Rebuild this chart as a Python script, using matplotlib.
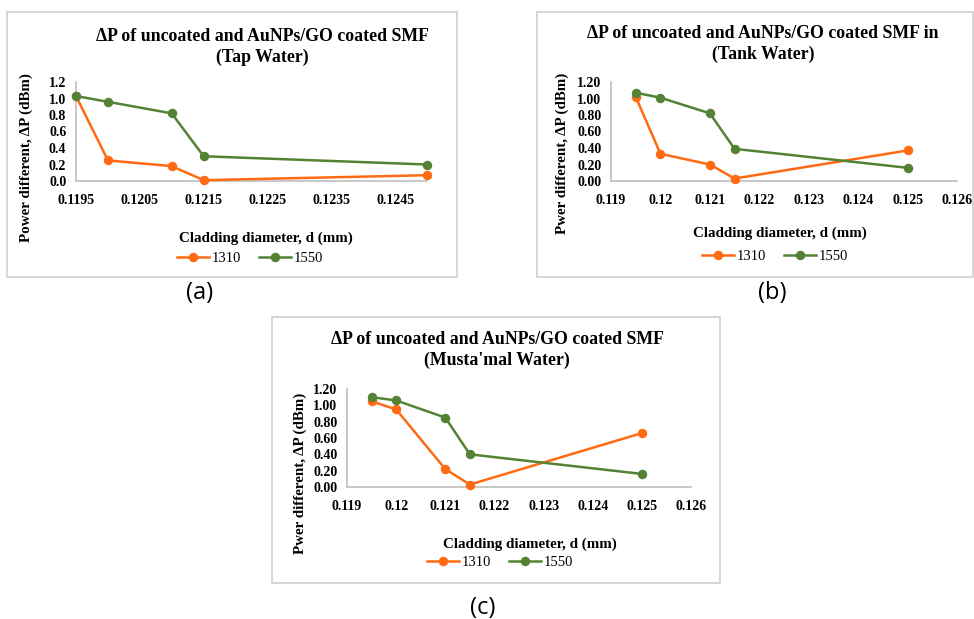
import matplotlib
matplotlib.use("Agg")
import matplotlib.pyplot as plt
from matplotlib.patches import Rectangle
from matplotlib.lines import Line2D

W, H = 974, 619
fig = plt.figure(figsize=(W / 100, H / 100), dpi=100)

ORANGE = "#FF6A13"
GREEN = "#548235"
SERIF = ["Liberation Serif", "DejaVu Serif"]
SANS = ["Open Sans", "DejaVu Sans"]

# ---- data ----
diam = [0.1195, 0.1200, 0.1210, 0.1215, 0.1250]
tap_1310 = [1.03, 0.25, 0.18, 0.01, 0.07]
tap_1550 = [1.03, 0.96, 0.82, 0.30, 0.20]
tank_1310 = [1.02, 0.33, 0.20, 0.03, 0.37]
tank_1550 = [1.07, 1.01, 0.82, 0.39, 0.16]
mus_1310 = [1.05, 0.95, 0.22, 0.03, 0.66]
mus_1550 = [1.10, 1.06, 0.85, 0.40, 0.16]

xt_a = [0.1195, 0.1205, 0.1215, 0.1225, 0.1235, 0.1245]
xl_a = ["0.1195", "0.1205", "0.1215", "0.1225", "0.1235", "0.1245"]
yt_a = [0.0, 0.2, 0.4, 0.6, 0.8, 1.0, 1.2]
yl_a = ["0.0", "0.2", "0.4", "0.6", "0.8", "1.0", "1.2"]
xt_bc = [0.119, 0.120, 0.121, 0.122, 0.123, 0.124, 0.125, 0.126]
xl_bc = ["0.119", "0.12", "0.121", "0.122", "0.123", "0.124", "0.125", "0.126"]
yl_bc = ["0.00", "0.20", "0.40", "0.60", "0.80", "1.00", "1.20"]

titles = ["ΔP of uncoated and AuNPs/GO coated SMF\n(Tap Water)",
          "ΔP of uncoated and AuNPs/GO coated SMF in\n(Tank Water)",
          "ΔP of uncoated and AuNPs/GO coated SMF\n(Musta'mal Water)"]
ylabels = ["Power different, ΔP (dBm)", "Pwer different, ΔP (dBm)", "Pwer different, ΔP (dBm)"]
xlabel = "Cladding diameter, d (mm)"
series_names = ["1310", "1550"]
panel_tags = ["(a)", "(b)", "(c)"]


def fx(x):
    return x / W


def fy(y):
    return 1 - y / H


def panel(box, axbox, xs, y1, y2, xlim, xt, xl, yl, title, title_xy, ylab, ylab_xy,
          xlab_xy, leg_xy, tag, tag_xy):
    bl, bt, br, bb = box
    fig.patches.append(Rectangle((fx(bl), fy(bb)), fx(br - bl), (bb - bt) / H,
                                 transform=fig.transFigure, fill=False,
                                 edgecolor="#D0D0D0", lw=1.2))
    l, t, r, b = axbox
    ax = fig.add_axes([fx(l), fy(b), fx(r - l), (b - t) / H])
    ax.plot(xs, y1, color=ORANGE, lw=1.8, marker="o", ms=5.8, clip_on=False, zorder=3)
    ax.plot(xs, y2, color=GREEN, lw=1.8, marker="o", ms=5.8, clip_on=False, zorder=3)
    ax.set_xlim(*xlim)
    ax.set_ylim(0, 1.2)
    ax.set_xticks(xt)
    ax.set_xticklabels(xl)
    ax.set_yticks(yt_a)
    ax.set_yticklabels(yl)
    for s in ["top", "right"]:
        ax.spines[s].set_visible(False)
    for s in ["left", "bottom"]:
        ax.spines[s].set_color("#BFBFBF")
        ax.spines[s].set_linewidth(1.2)
    ax.tick_params(length=0, pad=7, labelsize=10)
    for lab in ax.get_xticklabels() + ax.get_yticklabels():
        lab.set_fontfamily(SERIF)
        lab.set_fontweight("bold")
    ax.tick_params(axis="x", pad=9)
    fig.text(fx(title_xy[0]), fy(title_xy[1]), title, ha="center", va="center",
             fontsize=12.8, fontweight="bold", family=SERIF, linespacing=1.3)
    fig.text(fx(ylab_xy[0]), fy(ylab_xy[1]), ylab, ha="center", va="center",
             rotation=90, fontsize=10.8, fontweight="bold", family=SERIF)
    fig.text(fx(xlab_xy[0]), fy(xlab_xy[1]), xlabel, ha="center", va="center",
             fontsize=10.8, fontweight="bold", family=SERIF)
    handles = [Line2D([], [], color=ORANGE, lw=1.8, marker="o", ms=5.8),
               Line2D([], [], color=GREEN, lw=1.8, marker="o", ms=5.8)]
    fig.legend(handles, series_names, loc="center", ncol=2, frameon=False,
               bbox_to_anchor=(fx(leg_xy[0]), fy(leg_xy[1])),
               prop={"family": SERIF, "size": 10.5}, handlelength=2.2,
               handletextpad=0.2, columnspacing=1.2)
    fig.text(fx(tag_xy[0]), fy(tag_xy[1]), tag, ha="center", va="center",
             fontsize=17, family=SANS)
    return ax


panel((7, 12, 457, 277), (76, 82, 427, 181), diam, tap_1310, tap_1550,
      (0.1195, 0.1250), xt_a, xl_a, yl_a, titles[0], (262, 47), ylabels[0], (26, 158),
      (266, 238), (250, 258), panel_tags[0], (200, 293))

panel((537, 12, 973, 277), (611, 82, 957, 181), diam, tank_1310, tank_1550,
      (0.119, 0.126), xt_bc, xl_bc, yl_bc, titles[1], (763, 44), ylabels[1], (562, 153),
      (780, 233), (775, 256), panel_tags[1], (772, 293))

panel((272, 317, 720, 583), (347, 389, 691, 487), diam, mus_1310, mus_1550,
      (0.119, 0.126), xt_bc, xl_bc, yl_bc, titles[2], (497, 350), ylabels[2], (300, 473),
      (530, 544), (500, 562), panel_tags[2], (483, 608))

fig.savefig("out.png", dpi=100)
